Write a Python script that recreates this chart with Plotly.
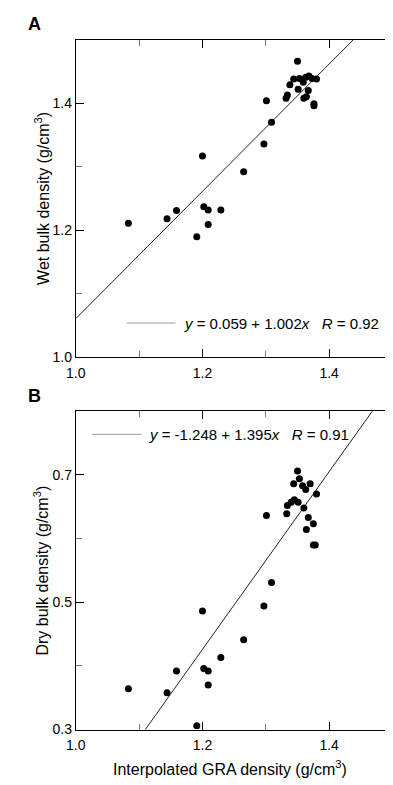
import numpy as np
import plotly.graph_objects as go

# ---------------- data ----------------
gra_a = [1.350, 1.344, 1.338, 1.353, 1.359, 1.368, 1.363, 1.373, 1.380, 1.351, 1.367,
         1.334, 1.332, 1.360, 1.364, 1.376, 1.376, 1.301, 1.309, 1.297,
         1.200, 1.265, 1.202, 1.209, 1.229, 1.159, 1.144, 1.083, 1.209, 1.191]
wet = [1.466, 1.438, 1.429, 1.439, 1.433, 1.443, 1.441, 1.439, 1.438, 1.422, 1.420,
       1.413, 1.408, 1.408, 1.410, 1.399, 1.396, 1.404, 1.370, 1.336,
       1.317, 1.292, 1.237, 1.232, 1.232, 1.231, 1.218, 1.211, 1.209, 1.190]

gra_b = [1.350, 1.353, 1.344, 1.358, 1.363, 1.370, 1.380, 1.345, 1.340, 1.351, 1.334,
         1.360, 1.333, 1.301, 1.367, 1.375, 1.364, 1.375, 1.378, 1.309, 1.297,
         1.200, 1.265, 1.229, 1.202, 1.209, 1.159, 1.209, 1.083, 1.144, 1.191]
dry = [0.706, 0.694, 0.686, 0.683, 0.677, 0.686, 0.670, 0.661, 0.657, 0.657, 0.652,
       0.648, 0.639, 0.636, 0.633, 0.623, 0.614, 0.590, 0.590, 0.531, 0.494,
       0.486, 0.441, 0.413, 0.396, 0.392, 0.392, 0.370, 0.364, 0.358, 0.306]

fit_a = (0.059, 1.002, 0.92)   # intercept, slope, R
fit_b = (-1.248, 1.395, 0.91)

x_range = [1.0, 1.5]
ya_range = [1.0, 1.5]
yb_range = [0.3, 0.8]
x_major = [1.0, 1.2, 1.4]
x_minor = [1.1, 1.3]
ya_major = [1.0, 1.2, 1.4]
ya_minor = [1.1, 1.3]
yb_major = [0.3, 0.5, 0.7]
yb_minor = [0.4, 0.6]

# ---------------- figure ----------------
W, H = 393, 785
FONT = "Liberation Sans, Arial, Helvetica, sans-serif"
fig = go.Figure()

xfit = np.array(x_range)
for (gx, gy, fit, xa, ya) in [(gra_a, wet, fit_a, "x", "y"), (gra_b, dry, fit_b, "x2", "y2")]:
    fig.add_trace(go.Scatter(x=xfit, y=fit[0] + fit[1] * xfit, mode="lines",
                             line=dict(color="#222", width=1), xaxis=xa, yaxis=ya,
                             showlegend=False, hoverinfo="skip"))
    fig.add_trace(go.Scatter(x=gx, y=gy, mode="markers",
                             marker=dict(color="black", size=7, line=dict(width=0)),
                             xaxis=xa, yaxis=ya, showlegend=False))

xdom = [59.3 / W, 384.3 / W]
dom_a = [1 - 353 / H, 1 - 32 / H]
dom_b = [1 - 729 / H, 1 - 407.3 / H]


def axis(rng, major, minor, dom, anchor):
    return dict(range=rng, domain=dom, anchor=anchor, tickvals=major,
                ticktext=[f"{v:.1f}" for v in major],
                ticks="inside", ticklen=8, tickwidth=1, tickcolor="black",
                minor=dict(tickvals=minor, ticks="inside", ticklen=6, tickwidth=1,
                           tickcolor="#777", showgrid=False),
                showline=True, linecolor="black", linewidth=1, mirror="ticks",
                showgrid=False, zeroline=False,
                tickfont=dict(size=14, color="black", family=FONT))


fig.update_layout(
    width=W, height=H, margin=dict(l=0, r=0, t=0, b=0),
    paper_bgcolor="white", plot_bgcolor="white",
    font=dict(family=FONT, color="black"),
    xaxis=axis(x_range, x_major, x_minor, xdom, "y"),
    yaxis=axis(ya_range, ya_major, ya_minor, dom_a, "x"),
    xaxis2=axis(x_range, x_major, x_minor, xdom, "y2"),
    yaxis2=axis(yb_range, yb_major, yb_minor, dom_b, "x2"),
)
fig.update_xaxes(ticklabelstandoff=3)


def px_x(p):
    return p / W


def px_y(p):
    return 1 - p / H


ann = []
ann.append(dict(text="<b>A</b>", x=px_x(17), y=px_y(16.5), xref="paper", yref="paper",
                showarrow=False, font=dict(size=18), xanchor="center", yanchor="middle"))
ann.append(dict(text="<b>B</b>", x=px_x(17), y=px_y(392), xref="paper", yref="paper",
                showarrow=False, font=dict(size=18), xanchor="center", yanchor="middle"))
ann.append(dict(text="Wet bulk density (g/cm<sup>3</sup>)", x=px_x(24), y=px_y(192.5),
                xref="paper", yref="paper", showarrow=False, textangle=-90,
                font=dict(size=16), xanchor="center", yanchor="middle"))
ann.append(dict(text="Dry bulk density (g/cm<sup>3</sup>)", x=px_x(24), y=px_y(568),
                xref="paper", yref="paper", showarrow=False, textangle=-90,
                font=dict(size=16), xanchor="center", yanchor="middle"))
ann.append(dict(text="Interpolated GRA density (g/cm<sup>3</sup>)", x=px_x(218), y=px_y(768),
                xref="paper", yref="paper", showarrow=False,
                font=dict(size=16), xanchor="center", yanchor="middle"))


def eq_text(fit):
    a, b, r = fit
    sign = "+" if b >= 0 else "-"
    return (f"<i>y</i> = {a:.3f} {sign} {abs(b):.3f}<i>x</i>&nbsp;&nbsp;&nbsp;<i>R</i> = {r:.2f}")


ann.append(dict(text=eq_text(fit_a), x=px_x(168), y=px_y(318.3), xref="paper", yref="paper",
                showarrow=False, font=dict(size=15), xanchor="left", yanchor="middle"))
ann.append(dict(text=eq_text(fit_b), x=px_x(132.7), y=px_y(430.7), xref="paper", yref="paper",
                showarrow=False, font=dict(size=15), xanchor="left", yanchor="middle"))
fig.update_layout(annotations=ann)

shapes = [
    dict(type="line", xref="paper", yref="paper", x0=px_x(111.7), x1=px_x(161.7),
         y0=px_y(318.3), y1=px_y(318.3), line=dict(color="#999", width=1)),
    dict(type="line", xref="paper", yref="paper", x0=px_x(76), x1=px_x(126.7),
         y0=px_y(430.7), y1=px_y(430.7), line=dict(color="#999", width=1)),
]
fig.update_layout(shapes=shapes)

fig.write_html("out.html")
